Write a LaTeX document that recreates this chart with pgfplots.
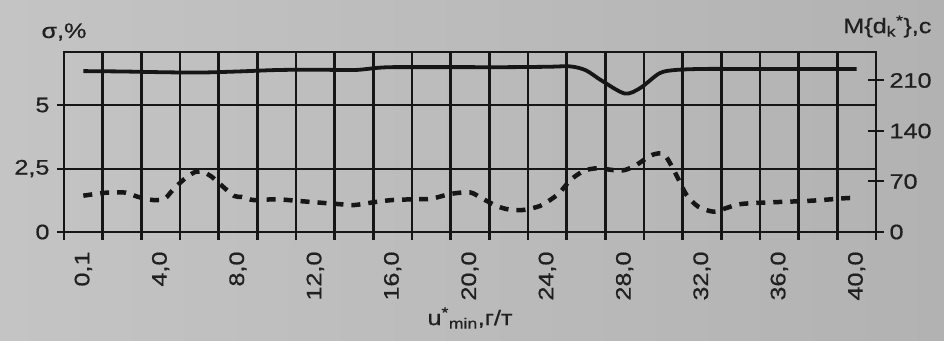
\documentclass[border=0pt]{standalone}
\usepackage{fontspec}
\setmainfont{Liberation Sans}[FakeStretch=1.2,FakeBold=0.6]
\usepackage{pgfplots}
\pgfplotsset{compat=1.18}
\definecolor{bgL}{RGB}{196,196,196}
\definecolor{bgR}{RGB}{178,178,178}
\definecolor{ink}{RGB}{22,22,22}
\definecolor{txt}{RGB}{32,32,32}
\begin{document}
\begin{tikzpicture}
\useasboundingbox (-64bp,-109bp) rectangle (880bp,232bp);
\shade[left color=bgL,right color=bgR] (-64bp,-109bp) rectangle (880bp,232bp);
\begin{axis}[
  at={(0,0)}, anchor=south west,
  scale only axis, width=812bp, height=180bp,
  font=\fontsize{21bp}{25bp}\selectfont, text=txt,
  /pgf/number format/assume math mode=true,
  xmin=-0.5, xmax=20.5, ymin=0, ymax=7.09,
  axis line style={line width=2.4bp, ink},
  tick pos=left, tick align=outside,
  xtick={0,2,...,20},
  xticklabels={{0,1},{4,0},{8,0},{12,0},{16,0},{20,0},{24,0},{28,0},{32,0},{36,0},{40,0}},
  major x tick style={draw=none},
  xticklabel style={rotate=90, anchor=east, xshift=-9bp},
  minor xtick={-0.5,0.5,...,20.5},
  minor x tick style={line width=2.6bp, ink},
  minor tick length=8bp,
  xminorgrids, minor x grid style={line width=2.6bp, ink},
  ytick={0,2.5,5}, yticklabels={0,{2,5},5},
  yticklabel style={xshift=-4bp},
  major y tick style={line width=2bp, ink},
  major tick length=7bp,
  ymajorgrids, major y grid style={line width=2bp, ink},
  clip=false,
]
\addplot[ink, line width=4.5bp, smooth, tension=0.5, dash pattern=on 9bp off 8bp, line cap=butt] coordinates {
(0,1.43) (0.6,1.55) (1.1,1.55) (1.4,1.39) (1.8,1.26) (2.1,1.31) (2.3,1.63) (2.6,2.07) (2.9,2.37) (3.1,2.35) (3.3,2.2) (3.6,1.80) (3.9,1.42) (4.1,1.38) (4.4,1.26) (5,1.29) (5.5,1.23) (6,1.17) (6.6,1.10) (7,1.06) (7.5,1.17) (8,1.26) (8.6,1.29) (9,1.31) (9.5,1.50) (10,1.56) (10.3,1.33) (10.7,1.02) (11,0.89) (11.4,0.87) (11.8,1.02) (12,1.19) (12.3,1.52) (12.6,2.05) (12.95,2.41) (13.3,2.51) (13.7,2.44) (14,2.44) (14.3,2.64) (14.7,3.03) (15,3.07) (15.2,2.64) (15.4,2.05) (15.6,1.46) (15.9,1.0) (16.3,0.80) (16.6,0.93) (17,1.10) (17.8,1.17) (18.8,1.23) (19.7,1.33) (20,1.35)
};
\node[anchor=base] at (axis description cs:0,1.078) {σ,\%};
\node[anchor=base] at (axis description cs:1.014,1.105) {M\{d\textsubscript{k}\textsuperscript{*}\},c};
\node[anchor=base] at (axis description cs:0.5,-0.517) {u\textsuperscript{*}\textsubscript{min},г/т};
\end{axis}
\begin{axis}[
  at={(0,0)}, anchor=south west,
  scale only axis, width=812bp, height=180bp,
  font=\fontsize{21bp}{25bp}\selectfont, text=txt,
  /pgf/number format/assume math mode=true,
  xmin=-0.5, xmax=20.5, ymin=0, ymax=249.5,
  axis x line=none, axis y line*=right,
  axis line style={line width=2.4bp, ink},
  ytick={0,70,140,210}, yticklabels={0,70,140,210},
  tick align=center, major tick length=16bp,
  major y tick style={line width=2bp, ink},
  yticklabel style={xshift=2bp},
  clip=false,
]
\addplot[ink, line width=3.8bp, smooth, tension=0.5] coordinates {
(0,223) (1,222.5) (2,221.5) (3,221) (4,222.5) (5,224.5) (6,225) (7,224.5) (7.6,227.5) (8,228.5) (9,228.5) (10,228.5) (11,228.5) (12,229) (12.6,229.5) (13,224) (13.4,210) (14,192) (14.4,199.5) (14.9,220) (15.3,224.5) (16,226) (17,226) (18,226) (19,226) (20,226)
};
\end{axis}
\end{tikzpicture}
\end{document}
